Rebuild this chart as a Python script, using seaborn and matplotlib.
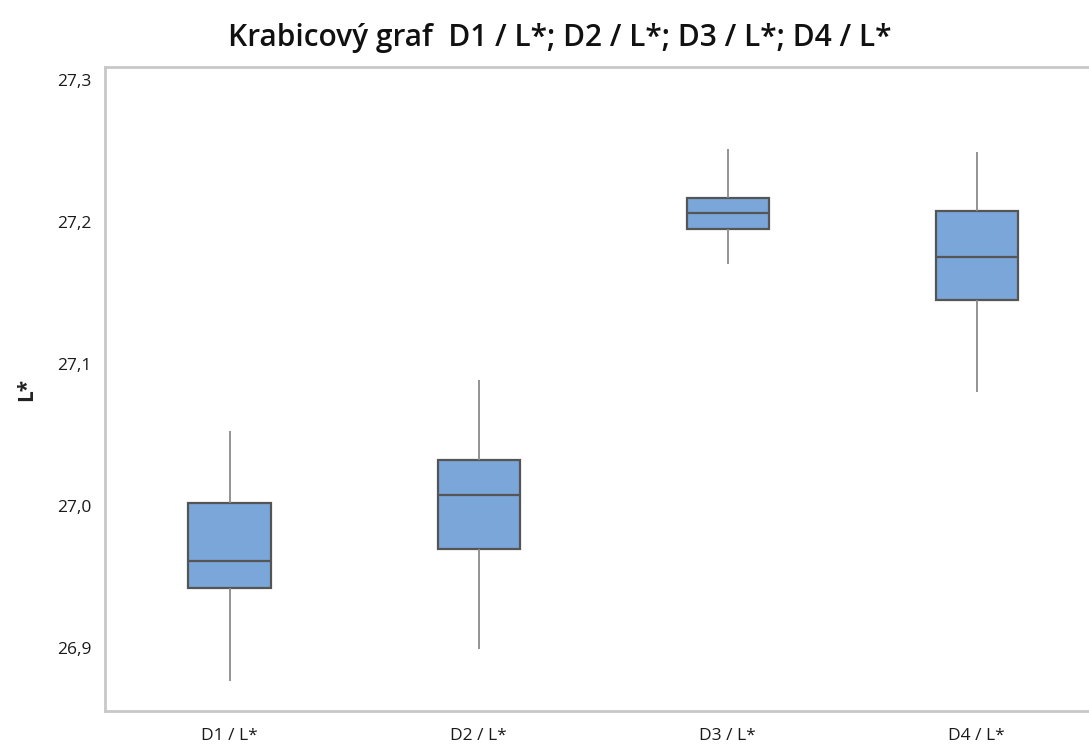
import matplotlib
matplotlib.use("Agg")
import matplotlib.pyplot as plt
import pandas as pd
import seaborn as sns

# five-number summaries (min, Q1, median, Q3, max)
groups = ["D1 / L*", "D2 / L*", "D3 / L*", "D4 / L*"]
d1 = [26.877, 26.942, 26.961, 27.002, 27.053]
d2 = [26.899, 26.970, 27.008, 27.032, 27.089]
d3 = [27.170, 27.195, 27.206, 27.217, 27.251]
d4 = [27.080, 27.145, 27.175, 27.208, 27.249]

yticks = [26.9, 27.0, 27.1, 27.2, 27.3]
ytick_labels = ["26,9", "27,0", "27,1", "27,2", "27,3"]

df = pd.DataFrame({
    "group": [g for g, v in zip(groups, [d1, d2, d3, d4]) for _ in v],
    "value": d1 + d2 + d3 + d4,
})

sns.set_style("white")
plt.rcParams["font.family"] = ["Open Sans", "DejaVu Sans"]

fig = plt.figure(figsize=(10.89, 7.47), dpi=100)
ax = fig.add_axes([0.0964, 0.0482, 0.915, 0.862])

sns.boxplot(data=df, x="group", y="value", ax=ax, color="#7BA6D9",
            saturation=1, width=0.33, whis=(0, 100), showcaps=False,
            linecolor="#555555", linewidth=1.6,
            whiskerprops=dict(color="#8a8a8a", linewidth=1.3))

ax.set_xlim(-0.5, 3.5)
ax.set_ylim(26.8556, 27.309)
ax.set_yticks(yticks)
ax.set_yticklabels(ytick_labels)
ax.set_xlabel("")
ax.set_ylabel("L*", fontsize=15, fontweight="bold", color="#222222")
ax.yaxis.set_label_coords(-0.068, 0.5)

for s in ax.spines.values():
    s.set_color("#c8c8c8")
    s.set_linewidth(2)
ax.tick_params(axis="both", length=4, width=1, color="#c8c8c8",
               labelsize=12.5, labelcolor="#1a1a1a", direction="out")
ax.tick_params(axis="y", pad=6)
ax.tick_params(axis="x", pad=8)

fig.text(0.514, 0.949, "Krabicový graf  D1 / L*; D2 / L*; D3 / L*; D4 / L*",
         ha="center", va="center", fontsize=21.5, fontweight="semibold",
         color="#111111")

fig.savefig("out.png", dpi=100)
